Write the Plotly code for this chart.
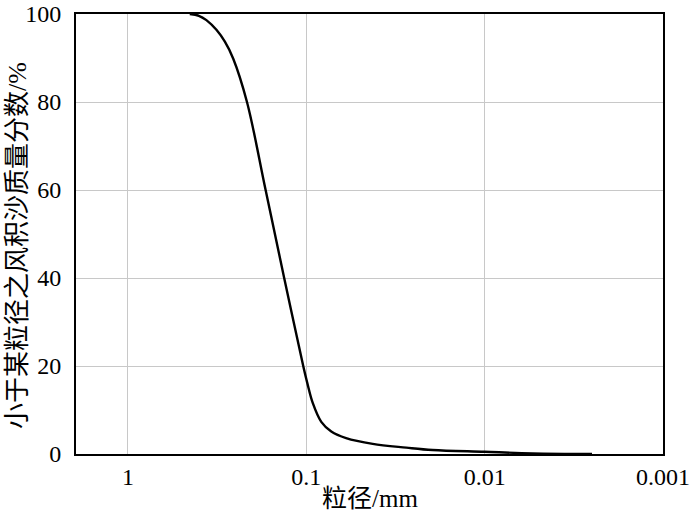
import plotly.graph_objects as go

size_mm = [0.45, 0.40, 0.363, 0.319, 0.286, 0.257, 0.215, 0.169, 0.133, 0.104,
           0.0985, 0.0918, 0.0824, 0.0724, 0.0598, 0.0424, 0.0275, 0.0196, 0.01, 0.0054, 0.0025]
percent = [100, 99.6, 98.6, 96.4, 93.7, 89.9, 80, 60, 40, 20,
           16.0, 11.5, 7.3, 5.1, 3.6, 2.3, 1.45, 0.9, 0.5, 0.15, 0.0]

x_ticks = [1, 0.1, 0.01, 0.001]
x_tick_text = ["1", "0.1", "0.01", "0.001"]
y_ticks = [0, 20, 40, 60, 80, 100]
x_title = "粒径/mm"
y_title = "小于某粒径之风积沙质量分数/%"

font_fam = "Liberation Serif, Noto Sans CJK SC, serif"

fig = go.Figure()
fig.add_trace(go.Scatter(x=size_mm, y=percent, mode="lines",
                         line=dict(color="black", width=2.4, shape="spline", smoothing=1.0),
                         showlegend=False, hoverinfo="skip"))

fig.update_layout(
    width=700, height=516,
    margin=dict(l=76, r=37, t=14, b=62, autoexpand=False),
    paper_bgcolor="white", plot_bgcolor="white",
    font=dict(family=font_fam, size=24, color="black"),
    xaxis=dict(type="log", range=[0.291, -3], tickvals=x_ticks, ticktext=x_tick_text,
               showgrid=True, gridcolor="#c8c8c8", gridwidth=1,
               showline=True, linecolor="black", linewidth=2, mirror=True,
               ticks="", zeroline=False, automargin=False,
               tickfont=dict(size=24)),
    yaxis=dict(range=[0, 100], tickvals=y_ticks,
               showgrid=True, gridcolor="#c8c8c8", gridwidth=1,
               showline=True, linecolor="black", linewidth=2, mirror=True,
               ticks="", zeroline=False, ticklabelstandoff=8, automargin=False,
               tickfont=dict(size=24)),
    annotations=[
        dict(text=y_title, textangle=-90, xref="paper", yref="paper",
             x=0, y=0.473, xshift=-58, xanchor="center", yanchor="middle",
             showarrow=False, font=dict(size=26, family=font_fam)),
        dict(text=x_title, xref="paper", yref="paper",
             x=0.5, y=0, yshift=-44, xanchor="center", yanchor="middle",
             showarrow=False, font=dict(size=25, family=font_fam)),
    ],
)

fig.write_html("out.html", config={"displayModeBar": False},
               post_script="document.body.style.margin='0';document.body.style.overflow='hidden';")
